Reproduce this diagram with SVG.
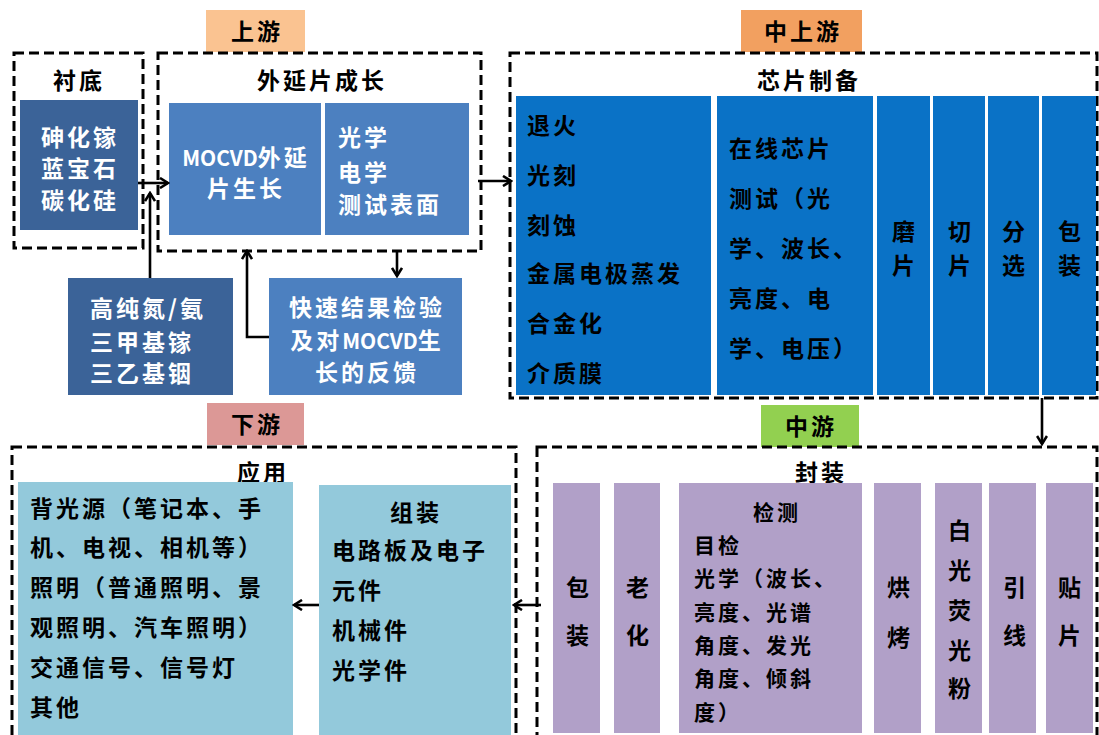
<svg xmlns="http://www.w3.org/2000/svg" width="1099" height="735" viewBox="0 0 1099 735">
<defs>
<marker id="ah" viewBox="0 0 12 12" refX="10" refY="6" markerWidth="12" markerHeight="12" markerUnits="userSpaceOnUse" orient="auto">
<path d="M2,1 L10,6 L2,11" fill="none" stroke="#000" stroke-width="2.6"/>
</marker>
<style>
text{font-family:"Noto Sans CJK SC","Noto Sans",sans-serif;font-weight:700;}
.t{font-size:23px;letter-spacing:3px;fill:#000;}
.w{font-size:23px;letter-spacing:3px;fill:#fff;}
.s{font-size:21px;letter-spacing:3px;fill:#000;}
.m{text-anchor:middle;}
.dash{fill:none;stroke:#000;stroke-width:3;stroke-dasharray:10,5;}
.dk{fill:#3b6398;}
.lt{fill:#4c80c0;}
.chip{fill:#0a72c6;}
.aq{fill:#93c9db;}
.pu{fill:#b1a0c8;}
.arr{fill:none;stroke:#000;stroke-width:2.6;marker-end:url(#ah);}
</style>
</defs>
<rect width="1099" height="735" fill="#fff"/>

<g id="label-upstream"><rect x="206" y="10" width="99" height="42" fill="#fac391"/><text class="t m" x="257" y="40">上游</text></g>
<g id="label-midup"><rect x="741" y="10" width="121" height="42" fill="#f2a060"/><text class="t m" x="803" y="40">中上游</text></g>
<g id="label-downstream"><rect x="207" y="403" width="97" height="42" fill="#dc9896"/><text class="t m" x="257" y="433">下游</text></g>
<g id="label-mid"><rect x="761" y="405" width="98" height="42" fill="#92d050"/><text class="t m" x="811" y="435">中游</text></g>

<g id="substrate">
<rect class="dash" x="14" y="53" width="129" height="195"/>
<text class="t m" x="79" y="89">衬底</text>
<rect class="dk" x="20" y="100" width="118" height="130"/>
<text class="w m" x="80" y="146">砷化镓</text>
<text class="w m" x="80" y="177">蓝宝石</text>
<text class="w m" x="80" y="209">碳化硅</text>
</g>

<g id="epitaxy">
<rect class="dash" x="158" y="53" width="323" height="198"/>
<text class="t m" x="322" y="89">外延片成长</text>
</g>
<g id="mocvd">
<rect class="lt" x="169" y="103" width="152" height="132"/>
<text class="w m" x="246" y="166"><tspan letter-spacing="0" font-size="21">MOCVD</tspan>外延</text>
<text class="w m" x="246" y="197">片生长</text>
</g>
<g id="epi-test">
<rect class="lt" x="325" y="103" width="144" height="132"/>
<text class="w" x="338" y="146">光学</text>
<text class="w" x="338" y="181">电学</text>
<text class="w" x="338" y="213">测试表面</text>
</g>
<g id="gases">
<rect class="dk" x="68" y="278" width="165" height="117"/>
<text class="w" x="90" y="317">高纯氮/氨</text>
<text class="w" x="90" y="351">三甲基镓</text>
<text class="w" x="90" y="382">三乙基铟</text>
</g>
<g id="feedback">
<rect class="lt" x="269" y="278" width="193" height="117"/>
<text class="w m" x="367" y="316">快速结果检验</text>
<text class="w m" x="367" y="349">及对<tspan letter-spacing="0" font-size="21">MOCVD</tspan>生</text>
<text class="w m" x="367" y="381">长的反馈</text>
</g>

<g id="chip">
<rect class="dash" x="510" y="53" width="587" height="345"/>
<text class="t m" x="809" y="89">芯片制备</text>
</g>
<g id="chip-process">
<rect class="chip" x="516" y="96" width="195" height="299"/>
<text class="t" x="527" y="134">退火</text>
<text class="t" x="527" y="184">光刻</text>
<text class="t" x="527" y="234">刻蚀</text>
<text class="t" x="527" y="282">金属电极蒸发</text>
<text class="t" x="527" y="332">合金化</text>
<text class="t" x="527" y="382">介质膜</text>
</g>
<g id="chip-test">
<rect class="chip" x="717" y="96" width="156" height="299"/>
<text class="t" x="729" y="157">在线芯片</text>
<text class="t" x="729" y="207">测试（光</text>
<text class="t" x="729" y="257">学、波长、</text>
<text class="t" x="729" y="307">亮度、电</text>
<text class="t" x="729" y="357">学、电压）</text>
</g>
<g id="chip-grind"><rect class="chip" x="877" y="96" width="53" height="299"/><text class="t m" x="905" y="240">磨</text><text class="t m" x="905" y="274">片</text></g>
<g id="chip-cut"><rect class="chip" x="933" y="96" width="52" height="299"/><text class="t m" x="961" y="240">切</text><text class="t m" x="961" y="274">片</text></g>
<g id="chip-sort"><rect class="chip" x="988" y="96" width="51" height="299"/><text class="t m" x="1015" y="240">分</text><text class="t m" x="1015" y="274">选</text></g>
<g id="chip-pack"><rect class="chip" x="1042" y="96" width="54" height="299"/><text class="t m" x="1071" y="240">包</text><text class="t m" x="1071" y="274">装</text></g>

<g id="packaging">
<rect class="dash" x="537" y="447" width="560" height="300"/>
<text class="t m" x="821" y="481">封装</text>
</g>
<g id="pk-pack"><rect class="pu" x="553" y="483" width="47" height="250"/><text class="t m" x="579" y="596">包</text><text class="t m" x="579" y="644">装</text></g>
<g id="pk-aging"><rect class="pu" x="614" y="483" width="46" height="250"/><text class="t m" x="639" y="596">老</text><text class="t m" x="639" y="644">化</text></g>
<g id="pk-test">
<rect class="pu" x="679" y="483" width="183" height="250"/>
<text class="s m" x="777" y="520">检测</text>
<text class="s" x="694" y="553">目检</text>
<text class="s" x="694" y="586">光学（波长、</text>
<text class="s" x="694" y="620">亮度、光谱</text>
<text class="s" x="694" y="653">角度、发光</text>
<text class="s" x="694" y="686">角度、倾斜</text>
<text class="s" x="694" y="720">度）</text>
</g>
<g id="pk-bake"><rect class="pu" x="874" y="483" width="47" height="250"/><text class="t m" x="900" y="596">烘</text><text class="t m" x="900" y="646">烤</text></g>
<g id="pk-phosphor">
<rect class="pu" x="935" y="483" width="47" height="250"/>
<text class="t m" x="961" y="539">白</text><text class="t m" x="961" y="579">光</text><text class="t m" x="961" y="619">荧</text><text class="t m" x="961" y="659">光</text><text class="t m" x="961" y="697">粉</text>
</g>
<g id="pk-wire"><rect class="pu" x="989" y="483" width="47" height="250"/><text class="t m" x="1016" y="596">引</text><text class="t m" x="1016" y="644">线</text></g>
<g id="pk-mount"><rect class="pu" x="1046" y="483" width="47" height="250"/><text class="t m" x="1071" y="596">贴</text><text class="t m" x="1071" y="644">片</text></g>

<g id="application">
<rect class="dash" x="12" y="447" width="504" height="300"/>
<text class="t m" x="263" y="481">应用</text>
</g>
<g id="app-uses">
<rect class="aq" x="18" y="482" width="275" height="253"/>
<text class="t" x="30" y="517">背光源（笔记本、手</text>
<text class="t" x="30" y="556">机、电视、相机等）</text>
<text class="t" x="30" y="596">照明（普通照明、景</text>
<text class="t" x="30" y="636">观照明、汽车照明）</text>
<text class="t" x="30" y="676">交通信号、信号灯</text>
<text class="t" x="30" y="716">其他</text>
</g>
<g id="app-assembly">
<rect class="aq" x="319" y="485" width="192" height="250"/>
<text class="t m" x="416" y="521">组装</text>
<text class="t" x="332" y="559">电路板及电子</text>
<text class="t" x="332" y="599">元件</text>
<text class="t" x="332" y="639">机械件</text>
<text class="t" x="332" y="679">光学件</text>
</g>

<g id="connectors">
<path class="arr" d="M138,183 H168"/>
<path class="arr" d="M150,278 V193"/>
<path class="arr" d="M397,251 V276"/>
<path class="arr" d="M269,337 H247 V251"/>
<path class="arr" d="M478,181 H511"/>
<path class="arr" d="M1042,398 V444"/>
<path class="arr" d="M541,605 H514"/>
<path class="arr" d="M319,605 H294"/>
</g>
</svg>
